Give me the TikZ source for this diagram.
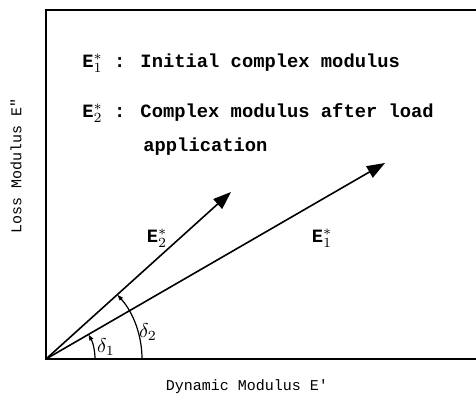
\documentclass[tikz,border=0pt]{standalone}
\usepackage{fontspec}
\newfontfamily\typefont{Liberation Mono}
\usetikzlibrary{arrows.meta,positioning}

\begin{document}
\begin{tikzpicture}[x=0.5pt, y=0.5pt,
  frm/.style={line width=1pt},
  vec/.style={line width=0.8pt, -{Triangle[length=9pt, width=6.5pt]}},
  ang/.style={line width=0.6pt, -{Triangle[length=3pt, width=2pt]}},
  txt/.style={font=\typefont\bfseries\fontsize{9.4}{11}\selectfont, anchor=west, inner sep=0pt},
  axl/.style={font=\typefont\fontsize{7.5}{9}\selectfont, inner sep=0pt}]
\useasboundingbox (0,0) rectangle (476,406);
% --- frame ---
\coordinate (o) at (46,47);
\coordinate (tl) at (46,396);
\coordinate (tr) at (476,396);
\coordinate (br) at (476,47);
\draw[frm] (tr) -- (tl) -- (o) -- (br);
% --- legend ---
\node[txt] (l1) at (82,343) {E$^{*}_{1}$ : Initial complex modulus};
\node[txt] (l2) at (82,293) {E$^{*}_{2}$ : Complex modulus after load};
\node[txt] (l3) at (143,259) {application};
% --- vectors ---
\coordinate (t1) at (385,243);
\coordinate (t2) at (231,214);
\draw[vec] (o) -- (t1);
\draw[vec] (o) -- (t2);
\node[txt, anchor=center] (e2) at (157,168) {E$^{*}_{2}$};
\node[txt, anchor=center] (e1) at (322,168) {E$^{*}_{1}$};
% --- phase angles ---
\draw[ang] ([shift={(0:49)}]o) arc[start angle=0, end angle=30, radius=24.5pt];
\draw[ang] ([shift={(0:96)}]o) arc[start angle=0, end angle=42, radius=48pt];
\node (d1) at (106,59) {$\delta_1$};
\node (d2) at (148,74) {$\delta_2$};
% --- axis labels ---
\node[axl] (xl) at (247,19) {Dynamic Modulus E'};
\node[axl, rotate=90] (yl) at (16,240) {Loss Modulus E"};
\end{tikzpicture}
\end{document}
